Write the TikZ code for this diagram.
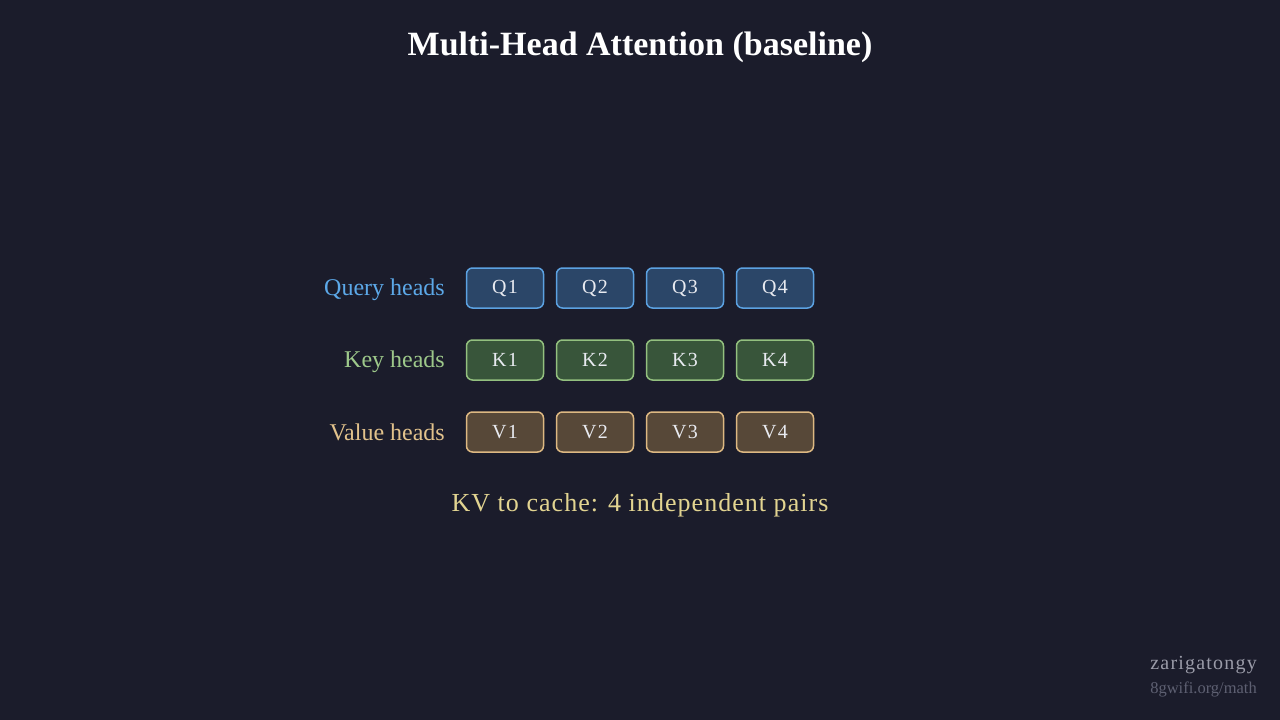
\documentclass[tikz,border=0pt]{standalone}
\usepackage{fontspec}
\setmainfont{Liberation Serif}
\definecolor{bg}{HTML}{1B1C2B}
\definecolor{qfill}{HTML}{2B4668}
\definecolor{qline}{HTML}{5CA2E2}
\definecolor{kfill}{HTML}{38553A}
\definecolor{kline}{HTML}{93C07F}
\definecolor{vfill}{HTML}{574838}
\definecolor{vline}{HTML}{DDB882}
\definecolor{qtext}{HTML}{5CA8E8}
\definecolor{ktext}{HTML}{9DC88A}
\definecolor{vtext}{HTML}{E2C28C}
\definecolor{captext}{HTML}{E2D491}
\definecolor{boxtext}{HTML}{E8EAF0}
\definecolor{wm1}{HTML}{9A9BA8}
\definecolor{wm2}{HTML}{5E6072}
\tikzset{
  head/.style={draw, line width=1.5pt, rounded corners=6pt, minimum width=77pt, minimum height=40pt, inner sep=0pt, text=boxtext, font=\addfontfeature{LetterSpace=6}\fontsize{20}{24}\selectfont},
  qbox/.style={head, fill=qfill, draw=qline},
  kbox/.style={head, fill=kfill, draw=kline},
  vbox/.style={head, fill=vfill, draw=vline},
  rowlabel/.style={anchor=base east, inner sep=0pt, font=\fontsize{24}{28}\selectfont},
}
\begin{document}
\begin{tikzpicture}[x=1pt,y=-1pt]
\fill[bg] (0,0) rectangle (1280,720);
\useasboundingbox (0,0) rectangle (1280,720);
\node[anchor=base, inner sep=0pt, font=\bfseries\fontsize{34}{40}\selectfont, text=white] (title) at (640,55) {Multi-Head Attention (baseline)};
\node[rowlabel, text=qtext] (ql) at (445,295) {Query heads};
\node[rowlabel, text=ktext] (kl) at (445,367) {Key heads};
\node[rowlabel, text=vtext] (vl) at (445,440) {Value heads};
\foreach \i/\x in {1/505,2/595,3/685,4/775}{
  \node[qbox] (q\i) at (\x,288) {Q\i};
  \node[kbox] (k\i) at (\x,360) {K\i};
  \node[vbox] (v\i) at (\x,432) {V\i};
}
\node[anchor=base, inner sep=0pt, text=captext, font=\addfontfeature{LetterSpace=4}\fontsize{26}{30}\selectfont] (cap) at (640,511) {KV to cache: 4 independent pairs};
\node[anchor=base east, inner sep=0pt, text=wm1, font=\addfontfeature{LetterSpace=6}\fontsize{20}{24}\selectfont] (wm) at (1257,669) {zarigatongy};
\node[anchor=base east, inner sep=0pt, text=wm2, font=\fontsize{16.5}{20}\selectfont] (url) at (1257,693) {8gwifi.org/math};
\end{tikzpicture}
\end{document}
